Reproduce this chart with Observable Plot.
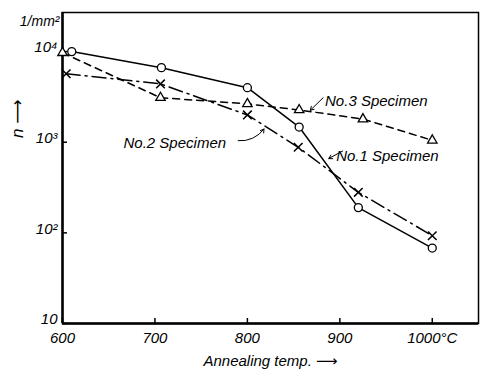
<!DOCTYPE html>
<html><head><meta charset="utf-8">
<script src="https://cdn.jsdelivr.net/npm/d3@7"></script>
<script src="https://cdn.jsdelivr.net/npm/@observablehq/plot@0.6"></script>
<style>body{margin:0;background:#fff} svg{display:block}</style>
</head><body><div id="chart"></div>
<script>
// No.1 Specimen (circles, solid)
const temps1 = [610, 707, 800, 856, 920, 1000];
const no1 = [10000, 6650, 4000, 1470, 190, 68];
// No.2 Specimen (crosses, dash-dot)
const temps2 = [604, 706, 800, 855, 920, 1000];
const no2 = [5700, 4400, 2000, 880, 280, 93];
// No.3 Specimen (triangles, dashed)
const temps3 = [600, 706, 800, 856, 925, 1000];
const no3 = [9700, 3100, 2650, 2270, 1800, 1050];

const xTicks = [600, 700, 800, 900, 1000];
const xTickLabels = ["600", "700", "800", "900", "1000°C"];
const yTicks = [10, 100, 1000, 10000];
const yTickLabels = ["10", "10²", "10³", "10⁴"];

const labelNames = ["No.1 Specimen", "No.2 Specimen", "No.3 Specimen"];
const labelX = [896, 666, 884];
const labelY = [700, 980, 2850];
// arrow start / end for each label (data coordinates)
const arrowX1 = [903, 790, 882];
const arrowY1 = [800, 1040, 3100];
const arrowX2 = [888, 818, 868];
const arrowY2 = [660, 1400, 2250];
const arrowBend = [0, -30, 0];

const s1 = temps1.map((t, i) => ({t, n: no1[i]}));
const s2 = temps2.map((t, i) => ({t, n: no2[i]}));
const s3 = temps3.map((t, i) => ({t, n: no3[i]}));
const labels = labelNames.map((name, i) => ({name, x: labelX[i], y: labelY[i]}));
const arrows = labelNames.map((name, i) => ({x1: arrowX1[i], y1: arrowY1[i], x2: arrowX2[i], y2: arrowY2[i], bend: arrowBend[i]}));

const font = "'Liberation Sans Narrow','Liberation Sans','DejaVu Sans',sans-serif";
const W = 483, H = 380, ML = 62, MR = 5, MT = 12, MB = 57;
const fw = W - ML - MR, fh = H - MT - MB;

const plot = Plot.plot({
  width: W, height: H,
  marginLeft: ML, marginRight: MR, marginTop: MT, marginBottom: MB,
  x: {domain: [600, 1050]},
  y: {type: "log", domain: [10, 27000]},
  style: {fontFamily: font, fontStyle: "italic", fontSize: "15px", background: "white", color: "black"},
  marks: [
    Plot.frame({stroke: "black", strokeWidth: 1.5}),
    Plot.ruleX([600], {stroke: "black", strokeWidth: 2.5}),
    Plot.ruleY([10], {stroke: "black", strokeWidth: 2.5}),
    Plot.ruleX(xTicks, {stroke: "black", strokeWidth: 1.5, insetTop: fh - 5}),
    Plot.ruleY(yTicks, {stroke: "black", strokeWidth: 1.5, insetRight: fw - 5}),
    Plot.axisX({ticks: xTicks, tickSize: 0, tickPadding: 9, label: null,
      tickFormat: d => xTickLabels[xTicks.indexOf(d)], fontSize: 15}),
    Plot.axisY({ticks: yTicks, tickSize: 0, tickPadding: 5, label: null, dy: -4,
      tickFormat: d => yTickLabels[yTicks.indexOf(d)], fontSize: 15}),
    Plot.line(s1, {x: "t", y: "n", stroke: "black", strokeWidth: 1.5}),
    Plot.line(s2, {x: "t", y: "n", stroke: "black", strokeWidth: 1.5, strokeDasharray: "14,5,2,5"}),
    Plot.line(s3, {x: "t", y: "n", stroke: "black", strokeWidth: 1.5, strokeDasharray: "7,5"}),
    Plot.dot(s1, {x: "t", y: "n", symbol: "circle", r: 4, fill: "white", stroke: "black", strokeWidth: 1.3}),
    Plot.dot(s2, {x: "t", y: "n", symbol: "times", r: 4, stroke: "black", strokeWidth: 1.5}),
    Plot.dot(s3, {x: "t", y: "n", symbol: "triangle", r: 3.5, fill: "white", stroke: "black", strokeWidth: 1.3}),
    Plot.text(labels, {x: "x", y: "y", text: "name", textAnchor: "start", fontSize: 15}),
    Plot.arrow(arrows.filter(a => a.bend === 0), {x1: "x1", y1: "y1", x2: "x2", y2: "y2", stroke: "black", strokeWidth: 1, headLength: 6}),
    Plot.arrow(arrows.filter(a => a.bend !== 0), {x1: "x1", y1: "y1", x2: "x2", y2: "y2", bend: -30, stroke: "black", strokeWidth: 1, headLength: 6}),
    Plot.text(["n ⟶"], {frameAnchor: "left", dx: -45, dy: -30, rotate: -90, fontSize: 17}),
    Plot.text(["1/mm²"], {frameAnchor: "top-left", dx: -3, dy: 4, textAnchor: "end", fontSize: 14}),
    Plot.text(["Annealing temp. ⟶"], {frameAnchor: "bottom", dx: 0, dy: 42, fontSize: 15})
  ]
});
document.getElementById("chart").append(plot);
</script>
</body></html>
